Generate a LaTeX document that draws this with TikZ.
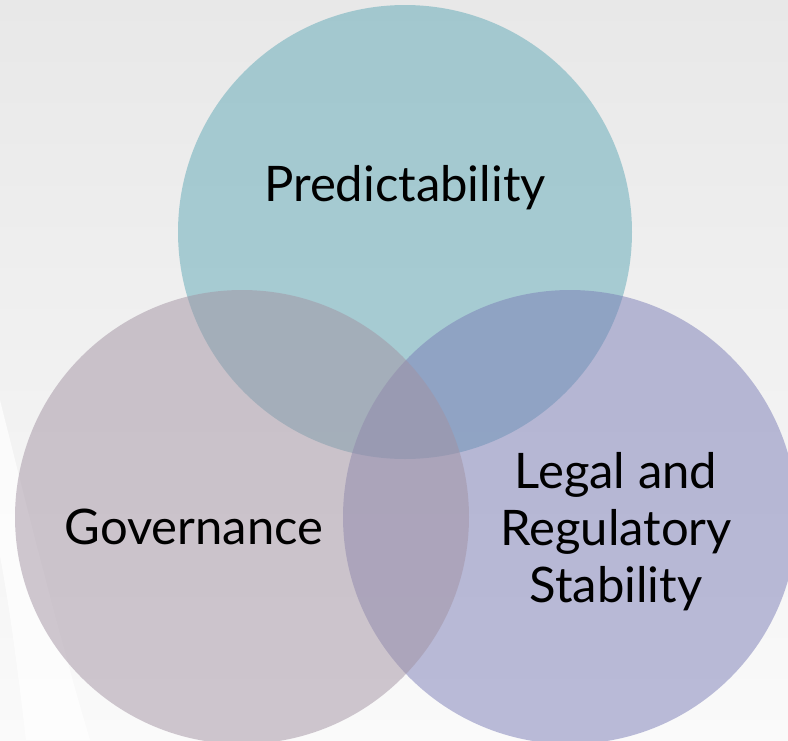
\documentclass[tikz,border=0pt]{standalone}
\usepackage{fontspec}
\setmainfont{Lato}
\begin{document}
\begin{tikzpicture}[x=1pt,y=-1pt,
  venn/.style={circle, minimum size=454pt, inner sep=0pt, fill opacity=0.5, text opacity=1},
  lbl/.style={font=\fontsize{49}{57}\selectfont, text=black, align=center}]
\definecolor{bgdark}{RGB}{232,232,232}
\definecolor{bglight}{RGB}{250,250,250}
\definecolor{ctop}{RGB}{94,168,182}
\definecolor{cright}{RGB}{122,124,182}
\definecolor{cleft}{RGB}{162,146,162}
% page background with a soft diagonal gradient
\useasboundingbox (0,0) rectangle (788,740);
\shade[shading angle=-60, top color=bgdark, bottom color=bglight] (0,0) rectangle (788,740);
% light swoosh at the lower left
\fill[white, opacity=0.7] (0,556) .. controls (12,620) and (20,690) .. (26,740)
  -- (90,740) .. controls (60,640) and (30,520) .. (0,400) -- cycle;
% the three circles
\node[venn, fill=ctop] (pred) at (405,232) {};
\node[venn, fill=cright] (legal) at (570,517) {};
\node[venn, fill=cleft] (gov) at (242,517) {};
% labels
\node[lbl] (tpred) at (405,188) {Predictability};
\node[lbl] (tgov) at (194,527) {Governance};
\node[lbl] (tlegal) at (616,532) {Legal and\\Regulatory\\Stability};
\end{tikzpicture}
\end{document}
